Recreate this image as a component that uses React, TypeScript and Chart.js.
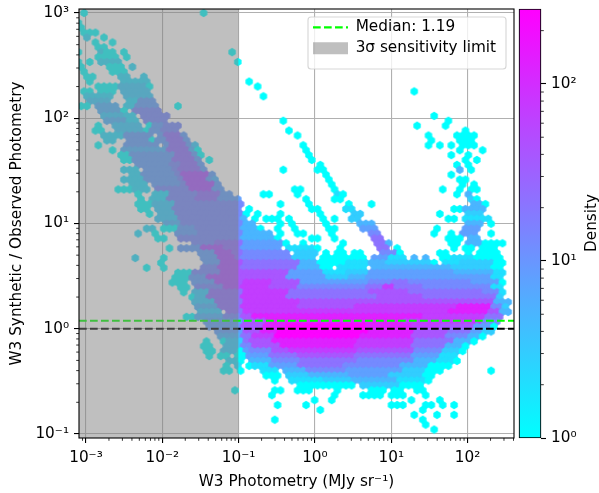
import React, { useEffect, useRef } from "react";
import { Chart, registerables } from "chart.js";

Chart.register(...registerables);

const FONT = '"DejaVu Sans"';
const FS = 15.28;

const xAxisLabel = "W3 Photometry (MJy sr⁻¹)";
const yAxisLabel = "W3 Synthetic / Observed Photometry";
const colorbarLabel = "Density";
const medianLabel = "Median: 1.19";
const limitLabel = "3σ sensitivity limit";

const xLimits = [8.1e-4, 406];
const yLimits = [0.0916, 1091];
const xTicks = [1e-3, 1e-2, 1e-1, 1, 10, 100];
const yTicks = [1e-1, 1, 10, 100, 1000];
const densityTicks = [1, 10, 100];
const densityRange = [1, 265];
const medianValue = 1.19;
const unityValue = 1;
const sensitivityLimit = 0.1;

// density of each letter used in the cell rows below
const densityLevels: Record<string, number> = {
  a: 1, b: 2, c: 3, d: 5, e: 8, f: 13, g: 22, h: 40, i: 70, j: 130, k: 250,
};

// hexbin lattice, in decades
const latticeLogX = -3.1;
const latticeLogXStep = 0.0746;
const latticeLogY = 3;
const latticeLogYStep = 0.04656;

// one string per lattice row: "from-to level" runs of occupied columns
const hexRows: string[] = [
  "1a 22a", "", "0a", "0a", "1-3a", "1b 4a", "3a 6a", "3-4a",
  "0a 4b 5-6a 8a 27a", "3-6a 8a", "0a 2a 4-7b 28a", "0a 5-7a 9b", "1a 6-8a", "1-2a 7-8b 11b",
  "2a 8-9b 10-12b 30a", "3-6a 7-11c 12a 31a", "1-2a 4-6a 8-12c 59a", "1-5b 8-12c 32a",
  "2-5c 9-10b 11-13e", "0a 1a 3-6d 8-9b 10-13e 17a", "4-7d 8a 10-14f", "4-7c 8-9b 11-15f 62a",
  "5-8d 9-10b 12-15f 36a 65a", "3a 6-10c 12a 13-14e 15-17f 59a 64a", "3-4a 7-11c 12a 13-14e 15-17f 37a 68a",
  "4-7b 8-12e 14e 15-17g 18e 38a 61a 66-69a", "5-6b 9-12e 13a 14-15e 16-18g 19e 62a 67-69a",
  "3a 8-13e 15e 16-18g 19e 20c 39a 61a 63a 65a 67-69a", "6a 8-12d 13-15d 16-19g 20d 21a 40a 67a 71a",
  "7-8a 9-13e 14-16e 17-19g 20e 21a 40a 65a 68a", "8-9a 10-14e 15-16e 17-20g 21e 23a 41a 68a 70a",
  "10-15e 16-17f 18-20g 21e 42a 66a 68a", "8-10b 12-16e 17f 18-21g 22e 36a 42-43a 67d 69a", "9-10b 11-16e 17f 18-22h 23e 43a 65a",
  "8-11b 12-17e 18f 19-22h 23e 24d 44a 67-68a", "9-11b 13-17e 18f 19-23h 24e 44a 67a 69a",
  "7-9a 10-12b 14-19f 20-23h 24-25e 38-39a 45a 64a 67a 69-70a",
  "10a 13-15b 16-20f 21-24g 25-26e 32-33a 38a 45b 46a 66a 68d",
  "11a 13-15b 16-20f 21-24g 25-28e 40a 45-46a 69c 70a",
  "10-12a 13-16c 17-21f 22-28f 35a 40a 47a 51a 69-70d 71a",
  "11-12a 14-16c 17-21f 22-28f 30a 41a 42a 47-48b 66-67a 68-71d",
  "12a 14-16c 17-22f 23-28f 29a 31a 35a 42a 48-49c 63a 68-70c",
  "14-17c 18-28f 29d 31a 33-35a 37a 43a 45a 48-49c 65-66a 68-72b",
  "15-17d 18-28f 29-30d 35a 37a 43a 49-50d 51d 68-70d 72a",
  "12-13b 15-17a 18-20e 21-28f 29-31d 32a 35a 38a 44a 45a 50-51e 52e 63a 68-70e",
  "10b 13a 17-20e 21-28f 29-33d 35a 38-39a 44a 51-52f 62a 65a 67-69e 72a",
  "14-15a 18-22f 23-28f 29-34d 35a 41a 42a 45a 52-53g 65-67a 69-70d",
  "20-23f 24-28g 29-35e 36a 39a 46a 52-53g 54d 65-66a 68-70d 71-74a",
  "16a 18-21e 22-25h 26-28g 29-35e 37-41b 42a 46a 53-54g 56a 66a 68-69a 71-73a",
  "21-23e 24-26h 27-28g 29-36f 38-41c 43a 45-46a 48-49a 53-55f 56a 63-64a 68a 70-73a",
  "10b 15a 22-24e 25-27h 28g 29-37f 38-41c 43-50a 52-54e 55-57b 59d 61d 64-65a 66-69b 70-74a",
  "14a 22-24e 25-28h 29-38g 39-41d 42-46a 47-50b 51-53d 54-58c 59-60c 61c 62a 64-66b 67-72c 73-74a",
  "12a 15a 22-24f 25-28h 29-38g 39-42d 43-44a 46-50b 52-54d 55-65d 66-72c 73-74a",
  "17-19a 20-24f 25-28h 29-36h 37-42e 43-46b 47-50c 51-65e 66-72d 73-74b",
  "17-19a 20-22e 23-28h 29-36h 37-43e 44-47c 48-50d 51-66e 67-72e 73-74b",
  "16-18a 20-23e 24-28h 29-33i 34-38h 39-50e 51-54f 55-57g 58-68f 69-73e 74a",
  "18-19a 21-25f 26-28h 29-33i 34-38h 39-50f 51-53g 54-55i 56-60g 61-72f 73-74b",
  "18a 20-22c 23-28g 29-36i 37-50g 51-57h 58-70g 71-73f 74b",
  "20a 21-22c 23-28g 29-36i 37-52g 53-60h 61-73g 74c",
  "20-23c 24-28g 29-38i 39-62h 63-72h 73-75d",
  "21-24d 25-28g 29-38i 39-48h 49-66i 67-72j 73-74f 75c",
  "21-24c 26-28g 29-48i 49-64i 65-71j 72-73h 74-75d",
  "19-20a 21-25d 26-28f 29-30h 31-60j 61-71i 72-74g",
  "22-28e 29-32h 33-56j 57-70i 71-73f",
  "23-28e 29-32h 33-36j 37-50k 51-58j 59-63i 64-69h 70-72e 73a",
  "24-28e 29-31h 32-34j 35-50k 51-58j 59-64h 65-68g 69-70e 71-72c",
  "25-28d 29-30g 31-34i 35-49k 50-58j 59-64h 65-68f 69-70d 71a",
  "22a 25a 26-28c 29g 30-33h 34-48j 49-58i 59-65g 66-68d 69a",
  "22-23a 26-28c 29-30f 31-35h 36-48j 49-58i 59-64g 65-67d 68a",
  "22-23a 25-27c 28a 29e 30-33f 34-36h 37-48i 49-58h 59-63f 64-66c 67a",
  "23a 25-26a 28a 29a 30-33e 34-38g 39-48h 49-58g 59-63e 64-66b",
  "26-27b 28a 30-33d 34-38f 39-48g 49-58f 59-62d 63-65b 66a",
  "26a 28b 30a 31-33b 34-38e 39-46g 47-56f 57-61d 62-65a",
  "25-26a 28a 32-34b 36-39d 40-46f 47-56e 57-60c 61-63a 72a",
  "33-35a 37-40c 41-47d 48-54e 55-60c 61-62a",
  "34a 37-42b 43-47c 48-55d 56-60b 61a",
  "39-46a 47-48a 50-56c 57-60a",
  "27a 34-35a 38-40a 45a 51-53a 55-56a 59-60a",
  "34a 45a 50-53a 55-57a 61a",
  "41a 44a 58a 63a",
  "35a 40a 55-57a 61-62a 64a 66a",
  "42a 60a",
  "59a 63a 66a",
  "34a 60a",
  "61a",
  "62a",
];

type Cell = { x: number; y: number; d: number };

function expandCells(): Cell[] {
  const out: Cell[] = [];
  hexRows.forEach((row, r) => {
    row.split(" ").filter(Boolean).forEach((tok) => {
      const m = tok.match(/^(\d+)(?:-(\d+))?([a-k])$/);
      if (!m) return;
      const a = +m[1];
      const b = m[2] ? +m[2] : a;
      for (let c = a; c <= b; c++) {
        const lx = latticeLogX + (c + (r % 2 ? 0.5 : 0)) * latticeLogXStep;
        const ly = latticeLogY - r * latticeLogYStep;
        out.push({ x: Math.pow(10, lx), y: Math.pow(10, ly), d: densityLevels[m[3]] });
      }
    });
  });
  return out;
}

const coolColor = (d: number) => {
  const t = Math.min(1, Math.log(d) / Math.log(densityRange[1]));
  return `rgb(${Math.round(255 * t)},${Math.round(255 * (1 - t))},255)`;
};

const hexCache = new Map<number, HTMLCanvasElement>();
function hexSprite(d: number) {
  let cv = hexCache.get(d);
  if (cv) return cv;
  cv = document.createElement("canvas");
  cv.width = 10;
  cv.height = 10;
  const g = cv.getContext("2d")!;
  g.fillStyle = coolColor(d);
  const hw = 3.7, hh = 4.15;
  g.beginPath();
  g.moveTo(5, 5 - hh);
  g.lineTo(5 + hw, 5 - hh / 2);
  g.lineTo(5 + hw, 5 + hh / 2);
  g.lineTo(5, 5 + hh);
  g.lineTo(5 - hw, 5 + hh / 2);
  g.lineTo(5 - hw, 5 - hh / 2);
  g.closePath();
  g.fill();
  hexCache.set(d, cv);
  return cv;
}

const SUP: Record<string, string> = { "-": "⁻", "0": "⁰", "1": "¹", "2": "²", "3": "³" };
const powLabel = (v: any) =>
  "10" + String(Math.round(Math.log10(+v))).split("").map((ch) => SUP[ch] || ch).join("");

function minorValues(min: number, max: number) {
  const out: number[] = [];
  for (let k = Math.floor(Math.log10(min)); k <= Math.ceil(Math.log10(max)); k++) {
    for (let m = 2; m <= 9; m++) {
      const v = m * Math.pow(10, k);
      if (v >= min && v <= max) out.push(v);
    }
  }
  return out;
}

function drawMinor(chart: any, axis: string, side: "bottom" | "left" | "right") {
  const s = chart.scales[axis];
  const a = chart.chartArea;
  const c = chart.ctx;
  c.save();
  c.strokeStyle = "#000";
  c.lineWidth = 0.8;
  c.beginPath();
  for (const v of minorValues(s.min, s.max)) {
    const p = s.getPixelForValue(v);
    if (side === "bottom") { c.moveTo(p, a.bottom); c.lineTo(p, a.bottom + 2.8); }
    if (side === "left") { c.moveTo(a.left, p); c.lineTo(a.left - 2.8, p); }
    if (side === "right") { c.moveTo(a.right, p); c.lineTo(a.right + 2.8, p); }
  }
  c.stroke();
  c.restore();
}

const noScalePadding = (s: any) => {
  s.paddingLeft = 0;
  s.paddingRight = 0;
  s.paddingTop = 0;
  s.paddingBottom = 0;
};

const mainDecor = {
  id: "mainDecor",
  beforeLayout(chart: any) {
    const lg = chart.legend;
    if (!lg) return;
    lg._layers = () => [
      {
        z: 20,
        draw() {
          const c = chart.ctx;
          c.save();
          c.beginPath();
          c.roundRect(308, 17, 198, 52, 3);
          c.fillStyle = "rgba(255,255,255,0.8)";
          c.fill();
          c.lineWidth = 1.1;
          c.strokeStyle = "rgba(204,204,204,0.8)";
          c.stroke();
          c.restore();
          lg.left = 307.3;
          lg.top = 14;
          lg.right = 510;
          lg.bottom = 72;
          lg.width = 202;
          lg.height = 58;
          lg.draw();
        },
      },
    ];
  },
  afterDraw(chart: any) {
    const a = chart.chartArea;
    const c = chart.ctx;
    drawMinor(chart, "x", "bottom");
    drawMinor(chart, "y", "left");
    c.save();
    c.strokeStyle = "#000";
    c.lineWidth = 1.1;
    c.strokeRect(a.left, a.top, a.right - a.left, a.bottom - a.top);
    c.restore();
  },
};

const barDecor = {
  id: "barDecor",
  afterDraw(chart: any) {
    drawMinor(chart, "y", "right");
    const c = chart.ctx;
    c.save();
    c.translate(82, 223);
    c.rotate(-Math.PI / 2);
    c.font = `${FS}px ${FONT}`;
    c.fillStyle = "#000";
    c.textAlign = "center";
    c.textBaseline = "middle";
    c.fillText(colorbarLabel, 0, 0);
    c.restore();
  },
};

export default function App() {
  const mainRef = useRef<HTMLCanvasElement>(null);
  const barRef = useRef<HTMLCanvasElement>(null);

  useEffect(() => {
    const cells = expandCells();
    const tickFont = { family: FONT, size: FS };
    const main = new Chart(mainRef.current!, {
      type: "scatter",
      plugins: [mainDecor],
      data: {
        datasets: [
          {
            label: limitLabel,
            order: 0,
            data: [
              { x: xLimits[0], y: yLimits[1] },
              { x: sensitivityLimit, y: yLimits[1] },
            ],
            showLine: true,
            fill: "start",
            backgroundColor: "rgba(128,128,128,0.5)",
            borderWidth: 0,
            pointRadius: 0,
          },
          {
            label: medianLabel,
            order: 1,
            data: [
              { x: xLimits[0], y: medianValue },
              { x: xLimits[1], y: medianValue },
            ],
            showLine: true,
            borderColor: "#00ff00",
            borderWidth: 2.08,
            borderDash: [7.7, 3.3],
            pointRadius: 0,
          },
          {
            label: "Unity",
            order: 1,
            data: [
              { x: xLimits[0], y: unityValue },
              { x: xLimits[1], y: unityValue },
            ],
            showLine: true,
            borderColor: "#000",
            borderWidth: 2.08,
            borderDash: [7.7, 3.3],
            pointRadius: 0,
          },
          {
            label: "Hexbin",
            order: 2,
            data: cells as any,
            pointRadius: 3,
            pointBorderWidth: 0,
            pointStyle: (ctx: any) => hexSprite(ctx.raw ? ctx.raw.d : 1),
          },
        ],
      },
      options: {
        responsive: false,
        animation: false,
        events: [],
        layout: { padding: { top: 9, right: 85, left: 0, bottom: 0 } },
        scales: {
          x: {
            type: "logarithmic",
            min: xLimits[0],
            max: xLimits[1],
            afterBuildTicks: (s: any) => { s.ticks = xTicks.map((value) => ({ value })); },
            afterFit: (s: any) => { s.height = 55; noScalePadding(s); },
            ticks: {
              autoSkip: false, maxRotation: 0, minRotation: 0, padding: 6,
              color: "#000", font: tickFont, callback: powLabel,
            },
            grid: { color: "#b0b0b0", lineWidth: 1.1, tickColor: "#000", tickLength: 5, tickWidth: 1.1 },
            border: { display: false },
            title: { display: true, text: xAxisLabel, color: "#000", font: tickFont, padding: { top: 0, bottom: 2 } },
          },
          y: {
            type: "logarithmic",
            min: yLimits[0],
            max: yLimits[1],
            afterBuildTicks: (s: any) => { s.ticks = yTicks.map((value) => ({ value })); },
            afterFit: (s: any) => { s.width = 79; noScalePadding(s); },
            ticks: {
              autoSkip: false, maxRotation: 0, minRotation: 0, padding: 5,
              color: "#000", font: tickFont, callback: powLabel,
            },
            grid: { color: "#b0b0b0", lineWidth: 1.1, tickColor: "#000", tickLength: 5, tickWidth: 1.1 },
            border: { display: false },
            title: { display: true, text: yAxisLabel, color: "#000", font: tickFont, padding: { top: 8, bottom: 0 } },
          },
        },
        plugins: {
          tooltip: { enabled: false },
          legend: {
            display: true,
            position: "chartArea",
            align: "start",
            labels: {
              usePointStyle: true,
              pointStyleWidth: 35,
              boxHeight: 12,
              padding: 5.7,
              color: "#000",
              font: tickFont,
              generateLabels: () => [
                {
                  text: medianLabel, pointStyle: "line", strokeStyle: "#00ff00", fillStyle: "#00ff00",
                  lineWidth: 2.08, lineDash: [7.7, 3.3], hidden: false, fontColor: "#000",
                },
                {
                  text: limitLabel, pointStyle: "rect", strokeStyle: "rgba(0,0,0,0)",
                  fillStyle: "rgba(128,128,128,0.5)", lineWidth: 0, hidden: false, fontColor: "#000",
                },
              ],
            },
          },
        },
      } as any,
    });

    const bar = new Chart(barRef.current!, {
      type: "bar",
      plugins: [barDecor],
      data: {
        labels: [colorbarLabel],
        datasets: [
          {
            data: [densityRange as any],
            clip: false as any,
            barPercentage: 1,
            categoryPercentage: 1,
            borderColor: "#000",
            borderWidth: 1.1,
            borderSkipped: false,
            backgroundColor: (ctx: any) => {
              const a = ctx.chart.chartArea;
              if (!a) return "#ff00ff";
              const g = ctx.chart.ctx.createLinearGradient(0, a.bottom, 0, a.top);
              g.addColorStop(0, "#00ffff");
              g.addColorStop(1, "#ff00ff");
              return g;
            },
          },
        ],
      },
      options: {
        responsive: false,
        animation: false,
        events: [],
        layout: { padding: { left: 9, top: 9, bottom: 55, right: 0 } },
        scales: {
          x: { display: false },
          y: {
            type: "logarithmic",
            position: "right",
            min: densityRange[0],
            max: densityRange[1],
            afterBuildTicks: (s: any) => { s.ticks = densityTicks.map((value) => ({ value })); },
            afterFit: (s: any) => { s.width = 58; noScalePadding(s); },
            ticks: {
              autoSkip: false, maxRotation: 0, minRotation: 0, padding: 5,
              color: "#000", font: tickFont, callback: powLabel,
            },
            grid: { drawOnChartArea: false, tickColor: "#000", tickLength: 5, tickWidth: 1.1 },
            border: { display: false },
          },
        },
        plugins: { legend: { display: false }, tooltip: { enabled: false } },
      } as any,
    });

    return () => {
      main.destroy();
      bar.destroy();
    };
  }, []);

  return (
    <div style={{ position: "absolute", left: 0, top: 0, width: 599, height: 493, background: "#fff" }}>
      <canvas ref={mainRef} width={599} height={493} style={{ position: "absolute", left: 0, top: 0 }} />
      <canvas ref={barRef} width={89} height={493} style={{ position: "absolute", left: 510, top: 0 }} />
    </div>
  );
}
